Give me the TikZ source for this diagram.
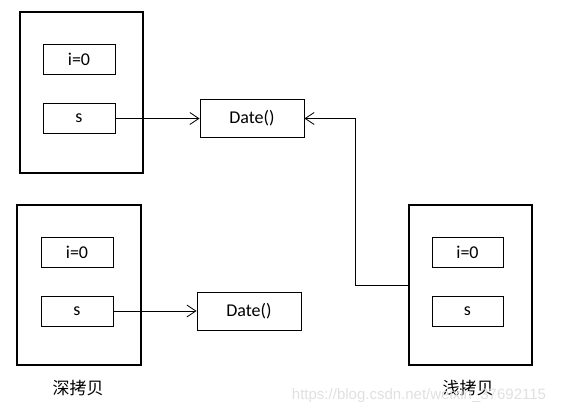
\documentclass[tikz,border=0pt]{standalone}
\usepackage{fontspec}
\setmainfont{Carlito}
\newfontfamily\cjk{Noto Sans CJK SC}
\newfontfamily\wmfont{Liberation Sans}
\usetikzlibrary{arrows.meta}
\tikzset{
  outerbox/.style={draw, line width=2.5pt, inner sep=0pt},
  fieldbox/.style={draw, line width=0.9pt, minimum width=72pt, minimum height=30pt, inner sep=0pt, font=\fontsize{18}{21}\selectfont},
  objbox/.style={draw, line width=0.9pt, minimum width=104pt, minimum height=38pt, inner sep=0pt, font=\fontsize{18}{21}\selectfont},
  conn/.style={line width=0.8pt, -{Straight Barb[length=9pt,width=12pt,line width=0.8pt]}},
  caption/.style={font=\cjk\fontsize{17}{20}\selectfont, inner sep=0pt},
}
\begin{document}
\begin{tikzpicture}[x=1pt,y=-1pt]
\useasboundingbox (0,0) rectangle (564,413);
% top original object
\node[outerbox, minimum width=123pt, minimum height=161pt] (A) at (81.5,92.5) {};
\node[fieldbox] (Ai) at (79,59) {i=0};
\node[fieldbox] (As) at (79,118.5) {s};
\node[objbox] (D1) at (252,118.5) {Date()};
% deep copy
\node[outerbox, minimum width=124pt, minimum height=160pt] (B) at (79,285) {};
\node[fieldbox] (Bi) at (77,252) {i=0};
\node[fieldbox] (Bs) at (77,311) {s};
\node[objbox] (D2) at (249,311) {Date()};
% shallow copy
\node[outerbox, minimum width=123pt, minimum height=160pt] (C) at (470.5,285) {};
\node[fieldbox, minimum width=71pt] (Ci) at (467.5,252) {i=0};
\node[fieldbox, minimum width=71pt] (Cs) at (467.5,311) {s};
% connectors
\draw[conn] (As.east) -- (D1.west);
\draw[conn] (Bs.east) -- (D2.west);
\coordinate (bend) at (355,285);
\draw[conn] (C.west) -- (bend) |- (D1.east);
% captions
\node[caption] (L1) at (78,388) {深拷贝};
\node[caption] (L2) at (468,388) {浅拷贝};
\node[font=\wmfont\fontsize{15}{17}\selectfont, text=black!12, inner sep=0pt] (wm) at (419,396) {https://blog.csdn.net/weixin\_37692115};
\end{tikzpicture}
\end{document}
